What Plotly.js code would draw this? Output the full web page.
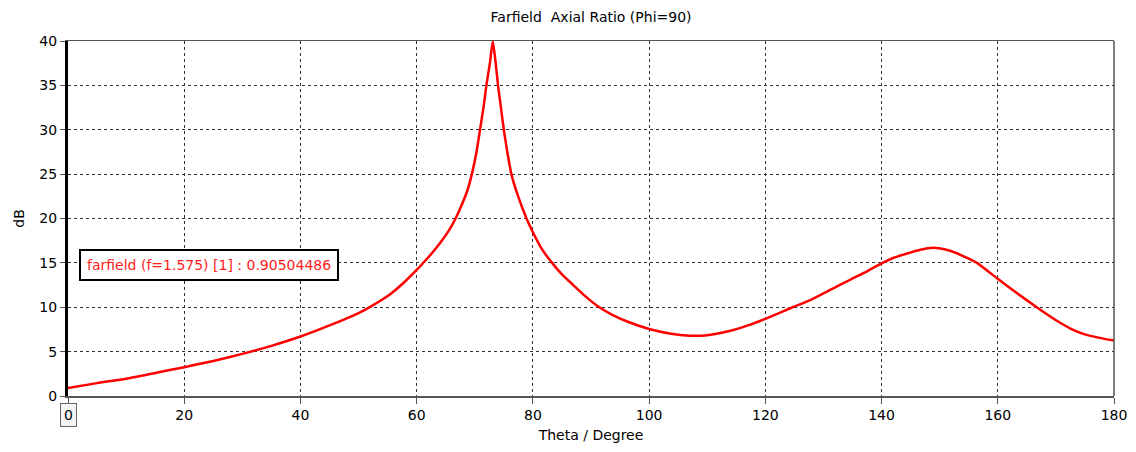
<!DOCTYPE html>
<html>
<head>
<meta charset="utf-8">
<script src="https://cdn.plot.ly/plotly-3.0.1.min.js"></script>
<style>html,body{margin:0;padding:0;background:#fff;}#chart{width:1136px;height:452px;}</style>
</head>
<body>
<div id="chart"></div>
<script>
// Theta (degrees) and axial ratio (dB)
var theta = [0, 5, 10, 15, 20, 25, 30, 35, 40, 45, 50, 52, 55.5, 58, 60, 61, 62.5, 64.1, 65.5, 66.7, 67.8, 68.7, 69.5, 70.3, 70.9, 71.5, 72, 72.6, 73.1, 73.6, 74, 74.5, 75, 75.6, 76.3, 77.3, 78.9, 80, 81.5, 83.3, 85, 86.7, 89, 91.3, 93.5, 96, 100, 103.5, 107, 110, 114, 117, 120, 124.7, 128, 131.6, 134.6, 137.5, 140, 142, 144.4, 146.5, 148.9, 151, 152.9, 156.4, 160, 163.5, 166.7, 170.1, 172.5, 174.7, 177.5, 180];
var axialRatio = [0.905, 1.45, 1.95, 2.6, 3.25, 3.95, 4.75, 5.65, 6.7, 7.95, 9.35, 10.05, 11.5, 12.9, 14.2, 14.9, 16.0, 17.3, 18.6, 20.0, 21.6, 23.1, 25.0, 27.5, 30.0, 32.5, 35.0, 37.5, 40.0, 37.5, 35.0, 32.5, 30.0, 27.5, 25.0, 22.8, 20.0, 18.45, 16.6, 15.0, 13.7, 12.65, 11.25, 10.05, 9.2, 8.45, 7.55, 7.05, 6.8, 6.85, 7.35, 7.95, 8.7, 10.0, 10.9, 12.1, 13.1, 14.05, 14.95, 15.55, 16.05, 16.45, 16.7, 16.5, 16.1, 15.0, 13.2, 11.5, 10.0, 8.5, 7.6, 7.0, 6.55, 6.25];
var xTicks = [0, 20, 40, 60, 80, 100, 120, 140, 160, 180];
var xTickText = ["", "20", "40", "60", "80", "100", "120", "140", "160", "180"];
var yTicks = [0, 5, 10, 15, 20, 25, 30, 35, 40];
var legendText = "farfield (f=1.575) [1] : 0.90504486";
var chartTitle = "Farfield  Axial Ratio (Phi=90)";

var font = "DejaVu Sans, Verdana, sans-serif";
var trace = {
  x: theta, y: axialRatio, type: "scatter", mode: "lines",
  line: {color: "#ff0000", width: 2.5, shape: "spline", smoothing: 0.5},
  hoverinfo: "skip"
};
var layout = {
  width: 1136, height: 452,
  margin: {l: 68, r: 22, t: 41, b: 56},
  paper_bgcolor: "#ffffff", plot_bgcolor: "#ffffff",
  showlegend: false,
  font: {family: font, size: 14, color: "#000"},
  title: {text: chartTitle, font: {family: font, size: 14, color: "#000"}, x: 0.5203, xanchor: "center", y: 0.962, yanchor: "middle"},
  xaxis: {
    range: [0, 180], tickvals: xTicks, ticktext: xTickText,
    showgrid: true, gridcolor: "#333", griddash: "3px,3px", gridwidth: 1,
    showline: true, linecolor: "#555", linewidth: 1.5, mirror: true,
    ticks: "outside", ticklen: 6, tickcolor: "#555",
    tickfont: {family: font, size: 14, color: "#000"},
    zeroline: false,
    title: {text: "Theta / Degree", font: {family: font, size: 14, color: "#000"}, standoff: 8}
  },
  yaxis: {
    range: [0, 40], tickvals: yTicks,
    showgrid: true, gridcolor: "#333", griddash: "3px,3px", gridwidth: 1,
    showline: true, linecolor: "#000", linewidth: 3,
    ticks: "outside", ticklen: 5, tickcolor: "#555",
    tickfont: {family: font, size: 14, color: "#000"},
    zeroline: false,
    title: {text: "dB", font: {family: font, size: 14, color: "#000"}, standoff: 12}
  },
  shapes: [
    {type: "line", xref: "paper", yref: "paper", x0: 1, x1: 1, y0: 0, y1: 1, line: {color: "#555", width: 1.5}}
  ],
  annotations: [
    {xref: "paper", yref: "paper", x: 0.0105, y: 0.414, xanchor: "left", yanchor: "top",
     text: legendText, showarrow: false, font: {family: font, size: 14, color: "#ff1a1a"},
     bgcolor: "#ffffff", bordercolor: "#000", borderwidth: 2, borderpad: 6},
    {xref: "x", yref: "paper", x: 0, y: 0, xanchor: "center", yanchor: "top", yshift: -7,
     text: "0", showarrow: false, font: {family: font, size: 14, color: "#000"},
     bgcolor: "#f4f4f4", bordercolor: "#666", borderwidth: 1, borderpad: 3}
  ]
};
Plotly.newPlot("chart", [trace], layout, {displayModeBar: false, staticPlot: true});
</script>
</body>
</html>
